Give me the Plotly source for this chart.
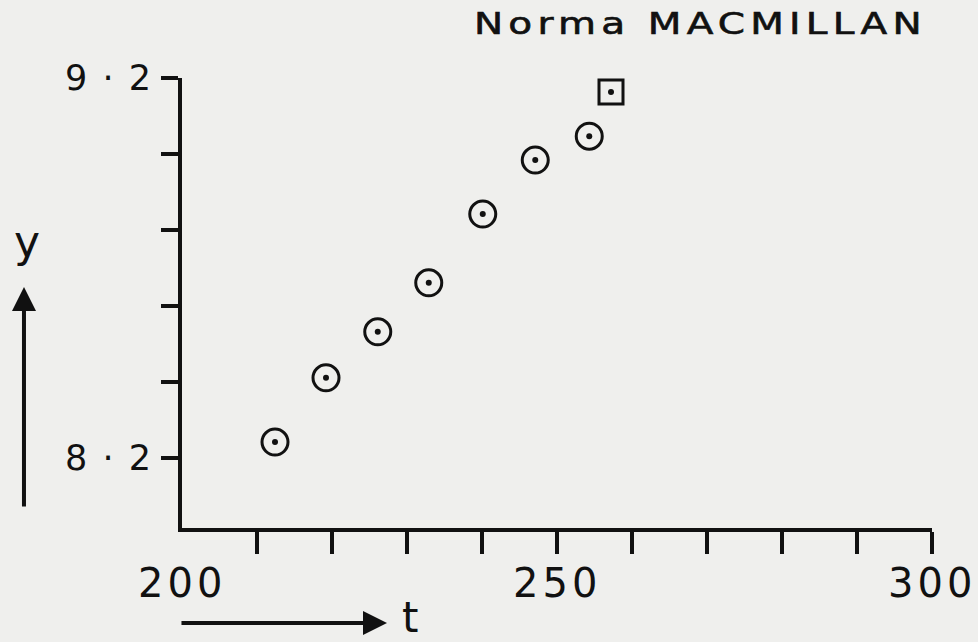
import plotly.graph_objects as go

# Observed values (circles) and the final value (square)
t_obs = [212.4, 219.2, 226.1, 232.9, 240.1, 247.1, 254.3]
y_obs = [8.242, 8.411, 8.532, 8.661, 8.842, 8.984, 9.047]
t_last = [257.2]
y_last = [9.163]

# Axis ticks and labels
x_tickvals = [210, 220, 230, 240, 250, 260, 270, 280, 290, 300]
x_labels = [200, 250, 300]
y_tickvals = [8.2, 8.4, 8.6, 8.8, 9.0, 9.2]
y_ticktext = ["8 · 2", "", "", "", "", "9 · 2"]

title_text = "Norma MACMILLAN"
FONT = "DejaVu Sans"
INK = "#111111"
PAPER = "#efefed"

fig = go.Figure()
fig.add_trace(go.Scatter(
    x=t_obs, y=y_obs, mode="markers",
    marker=dict(symbol="circle-open", size=26, color=INK,
                line=dict(width=3, color=INK)),
    showlegend=False, hoverinfo="skip",
))
fig.add_trace(go.Scatter(
    x=t_last, y=y_last, mode="markers",
    marker=dict(symbol="square-open", size=24, color=INK,
                line=dict(width=3, color=INK)),
    showlegend=False, hoverinfo="skip",
))
# centre dots of every plotted point
fig.add_trace(go.Scatter(
    x=t_obs + t_last, y=y_obs + y_last, mode="markers",
    marker=dict(symbol="circle", size=6, color=INK, line=dict(width=0)),
    showlegend=False, hoverinfo="skip",
))

fig.update_layout(
    width=978, height=642,
    margin=dict(l=182, r=46, t=78, b=114),
    paper_bgcolor=PAPER, plot_bgcolor=PAPER,
    font=dict(family=FONT, color=INK),
    xaxis=dict(
        range=[200, 300], showgrid=False, zeroline=False,
        showline=True, linewidth=4, linecolor=INK,
        tickmode="array", tickvals=x_tickvals,
        ticktext=[""] * len(x_tickvals),
        ticks="outside", ticklen=22, tickwidth=3.5, tickcolor=INK,
    ),
    yaxis=dict(
        range=[9.2 - 450 / 380, 9.2], showgrid=False, zeroline=False,
        showline=True, linewidth=4, linecolor=INK,
        tickmode="array", tickvals=y_tickvals, ticktext=y_ticktext,
        ticks="outside", ticklen=17, tickwidth=3.5, tickcolor=INK,
        tickfont=dict(size=35, family=FONT, color=INK),
        ticklabelstandoff=1,
    ),
)

annotations = [
    # t axis labels
    *[dict(text=str(v), x=v, xref="x", y=-0.1222, yref="paper",
           showarrow=False, xanchor="center", yanchor="middle",
           font=dict(size=40, family=FONT, color=INK)) for v in x_labels],
    # title
    dict(text=title_text, x=0.386, xref="paper", y=1.1222, yref="paper",
         showarrow=False, xanchor="left", yanchor="middle", align="left",
         font=dict(size=30, family=FONT, color=INK)),
    # axis names
    dict(text="y", x=-0.2073, xref="paper", y=0.6356, yref="paper",
         showarrow=False, xanchor="center", yanchor="middle",
         font=dict(size=44, family=FONT, color=INK)),
    dict(text="t", x=0.304, xref="paper", y=-0.198, yref="paper",
         showarrow=False, xanchor="center", yanchor="middle",
         font=dict(size=42, family=FONT, color=INK)),
    # direction arrows
    dict(text="", x=-0.2107, xref="paper", y=0.5356, yref="paper",
         ax=0, ay=221, axref="pixel", ayref="pixel",
         showarrow=True, arrowhead=2, arrowsize=1.2, arrowwidth=4,
         arrowcolor=INK, standoff=0),
    dict(text="", x=0.2733, xref="paper", y=-0.2111, yref="paper",
         ax=-207, ay=0, axref="pixel", ayref="pixel",
         showarrow=True, arrowhead=2, arrowsize=1.2, arrowwidth=4,
         arrowcolor=INK, standoff=0),
]
fig.update_layout(annotations=annotations)

# wide, spaced lettering for the drawn texts
post = """
var gd = document.getElementById('{plot_id}');
function spaceText(){
  gd.querySelectorAll('.ytick text').forEach(function(e){ e.style.letterSpacing='2px'; });
  gd.querySelectorAll('text.annotation-text').forEach(function(e){
    var s = e.textContent;
    if (s === 'Norma MACMILLAN') {
      e.style.letterSpacing = '4px';
      e.style.transformBox = 'fill-box';
      e.style.transformOrigin = 'left center';
      e.style.transform = 'scaleX(1.3)';
      e.style.stroke = '#111111';
      e.style.strokeWidth = '0.6px';
    } else if (/^[0-9]+$/.test(s)) {
      e.style.letterSpacing = '4px';
    }
  });
}
spaceText();
gd.on('plotly_afterplot', spaceText);
"""

fig.write_html("out.html", post_script=post, config={"staticPlot": True})
